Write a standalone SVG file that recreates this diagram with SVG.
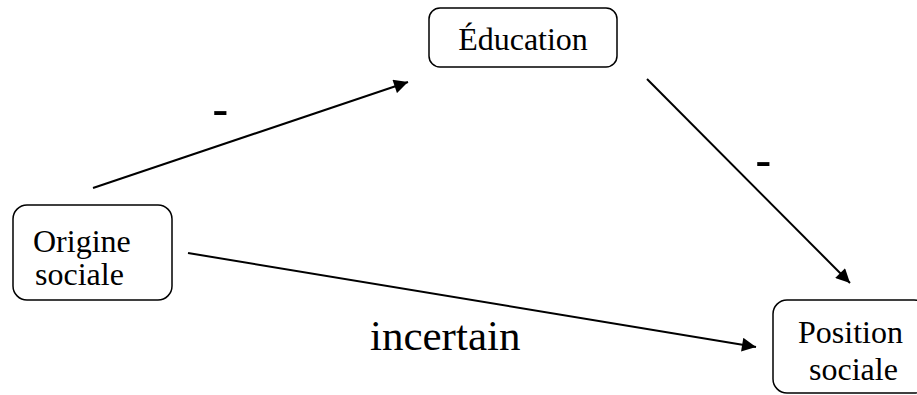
<svg xmlns="http://www.w3.org/2000/svg" width="917" height="395" viewBox="0 0 917 395">
<style>
.box{fill:#fff;stroke:#000;stroke-width:1.5}
.lbl{font-family:"Liberation Serif","Times New Roman",serif;font-size:32px;fill:#000}
.edge{stroke:#000;stroke-width:2;fill:none;marker-end:url(#ah)}
.sign{font-family:"Liberation Sans",Arial,sans-serif;font-size:50px;fill:#000}
</style>
<defs>
<marker id="ah" viewBox="0 0 10 10" refX="10" refY="5" markerWidth="8" markerHeight="7" markerUnits="strokeWidth" orient="auto">
<path d="M0,0 L10,5 L0,10 z" fill="#000"/>
</marker>
</defs>
<rect width="917" height="395" fill="#fff"/>
<g id="connectors">
<line class="edge" x1="93" y1="188" x2="408" y2="82"/>
<line class="edge" x1="647" y1="79" x2="850" y2="283"/>
<line class="edge" x1="188" y1="253" x2="756" y2="347"/>
<text class="sign" x="212" y="126">-</text>
<text class="sign" x="755" y="177">-</text>
<text x="370" y="350" style="font-family:'Liberation Serif','Times New Roman',serif;font-size:43px">incertain</text>
</g>
<g id="education">
<rect class="box" x="429" y="8" width="188" height="59" rx="11"/>
<text class="lbl" x="523" y="50" text-anchor="middle">Éducation</text>
</g>
<g id="origine">
<rect class="box" x="13" y="205" width="159" height="95" rx="14"/>
<text class="lbl" x="33" y="252">Origine</text>
<text class="lbl" x="35" y="285">sociale</text>
</g>
<g id="position">
<rect class="box" x="773" y="300" width="155" height="93" rx="14"/>
<text class="lbl" x="798" y="343">Position</text>
<text class="lbl" x="809" y="380">sociale</text>
</g>
</svg>
